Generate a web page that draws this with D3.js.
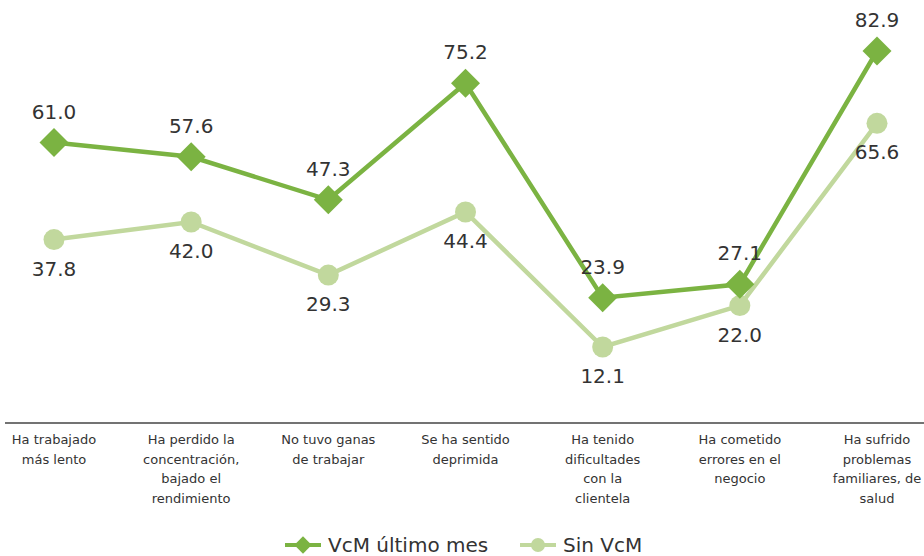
<!DOCTYPE html>
<html>
<head>
<meta charset="utf-8">
<style>
  body { margin: 0; background: #fff; }
  svg { display: block; font-family: "DejaVu Sans", sans-serif; }
</style>
</head>
<body>
<div id="chart"></div>
<script src="https://d3js.org/d3.v7.min.js"></script>
<script>
// data
var categories = [
  ["Ha trabajado", "más lento"],
  ["Ha perdido la", "concentración,", "bajado el", "rendimiento"],
  ["No tuvo ganas", "de trabajar"],
  ["Se ha sentido", "deprimida"],
  ["Ha tenido", "dificultades", "con la", "clientela"],
  ["Ha cometido", "errores en el", "negocio"],
  ["Ha sufrido", "problemas", "familiares, de", "salud"]
];
var vcmValues = [61.0, 57.6, 47.3, 75.2, 23.9, 27.1, 82.9];
var sinValues = [37.8, 42.0, 29.3, 44.4, 12.1, 22.0, 65.6];
var seriesNames = ["VcM último mes", "Sin VcM"];

var width = 924, height = 556;
var darkGreen = "#7bb342", lightGreen = "#c1d89d", textColor = "#333";

var svg = d3.select("#chart").append("svg")
    .attr("width", width)
    .attr("height", height);

var x = d3.scalePoint()
    .domain(d3.range(categories.length))
    .range([54, 877]);

var y = d3.scaleLinear()
    .domain([0, 90])
    .range([397.6, 21.3]);

// axis line
svg.append("line")
    .attr("x1", 5).attr("x2", width)
    .attr("y1", 423).attr("y2", 423)
    .attr("stroke", "#444")
    .attr("stroke-width", 1.5);

// category labels
categories.forEach(function(lines, i) {
  var t = svg.append("text")
      .attr("text-anchor", "middle")
      .attr("fill", textColor)
      .attr("font-size", 13);
  lines.forEach(function(l, j) {
    t.append("tspan")
      .attr("x", x(i))
      .attr("y", 444 + j * 19.5)
      .text(l);
  });
});

var line = d3.line()
    .x(function(d, i) { return x(i); })
    .y(function(d) { return y(d); });

// Sin VcM series
svg.append("path")
    .datum(sinValues)
    .attr("d", line)
    .attr("fill", "none")
    .attr("stroke", lightGreen)
    .attr("stroke-width", 4.5);

svg.selectAll(".sinpt")
    .data(sinValues)
    .enter().append("circle")
    .attr("cx", function(d, i) { return x(i); })
    .attr("cy", function(d) { return y(d); })
    .attr("r", 10.5)
    .attr("fill", lightGreen);

// VcM series
svg.append("path")
    .datum(vcmValues)
    .attr("d", line)
    .attr("fill", "none")
    .attr("stroke", darkGreen)
    .attr("stroke-width", 4.5);

var diamond = d3.symbol().type(d3.symbolSquare).size(420);

svg.selectAll(".vcmpt")
    .data(vcmValues)
    .enter().append("path")
    .attr("d", diamond)
    .attr("transform", function(d, i) {
      return "translate(" + x(i) + "," + y(d) + ") rotate(45)";
    })
    .attr("fill", darkGreen);

// value labels
svg.selectAll(".vcmlab")
    .data(vcmValues)
    .enter().append("text")
    .attr("x", function(d, i) { return x(i); })
    .attr("y", function(d) { return y(d) - 24; })
    .attr("text-anchor", "middle")
    .attr("font-size", 20)
    .attr("fill", textColor)
    .text(function(d) { return d.toFixed(1); });

svg.selectAll(".sinlab")
    .data(sinValues)
    .enter().append("text")
    .attr("x", function(d, i) { return x(i); })
    .attr("y", function(d) { return y(d) + 36; })
    .attr("text-anchor", "middle")
    .attr("font-size", 20)
    .attr("fill", textColor)
    .text(function(d) { return d.toFixed(1); });

// legend
var lg1 = svg.append("g").attr("transform", "translate(285,545)");
lg1.append("line").attr("x1", 0).attr("x2", 36)
    .attr("stroke", darkGreen).attr("stroke-width", 4);
lg1.append("path").attr("d", d3.symbol().type(d3.symbolSquare).size(150))
    .attr("transform", "translate(18,0) rotate(45)")
    .attr("fill", darkGreen);
lg1.append("text").attr("x", 43).attr("y", 7)
    .attr("font-size", 20).attr("fill", textColor)
    .text(seriesNames[0]);

var lg2 = svg.append("g").attr("transform", "translate(520,545)");
lg2.append("line").attr("x1", 0).attr("x2", 36)
    .attr("stroke", lightGreen).attr("stroke-width", 4);
lg2.append("circle").attr("cx", 18).attr("r", 7)
    .attr("fill", lightGreen);
lg2.append("text").attr("x", 43).attr("y", 7)
    .attr("font-size", 20).attr("fill", textColor)
    .text(seriesNames[1]);
</script>
</body>
</html>
